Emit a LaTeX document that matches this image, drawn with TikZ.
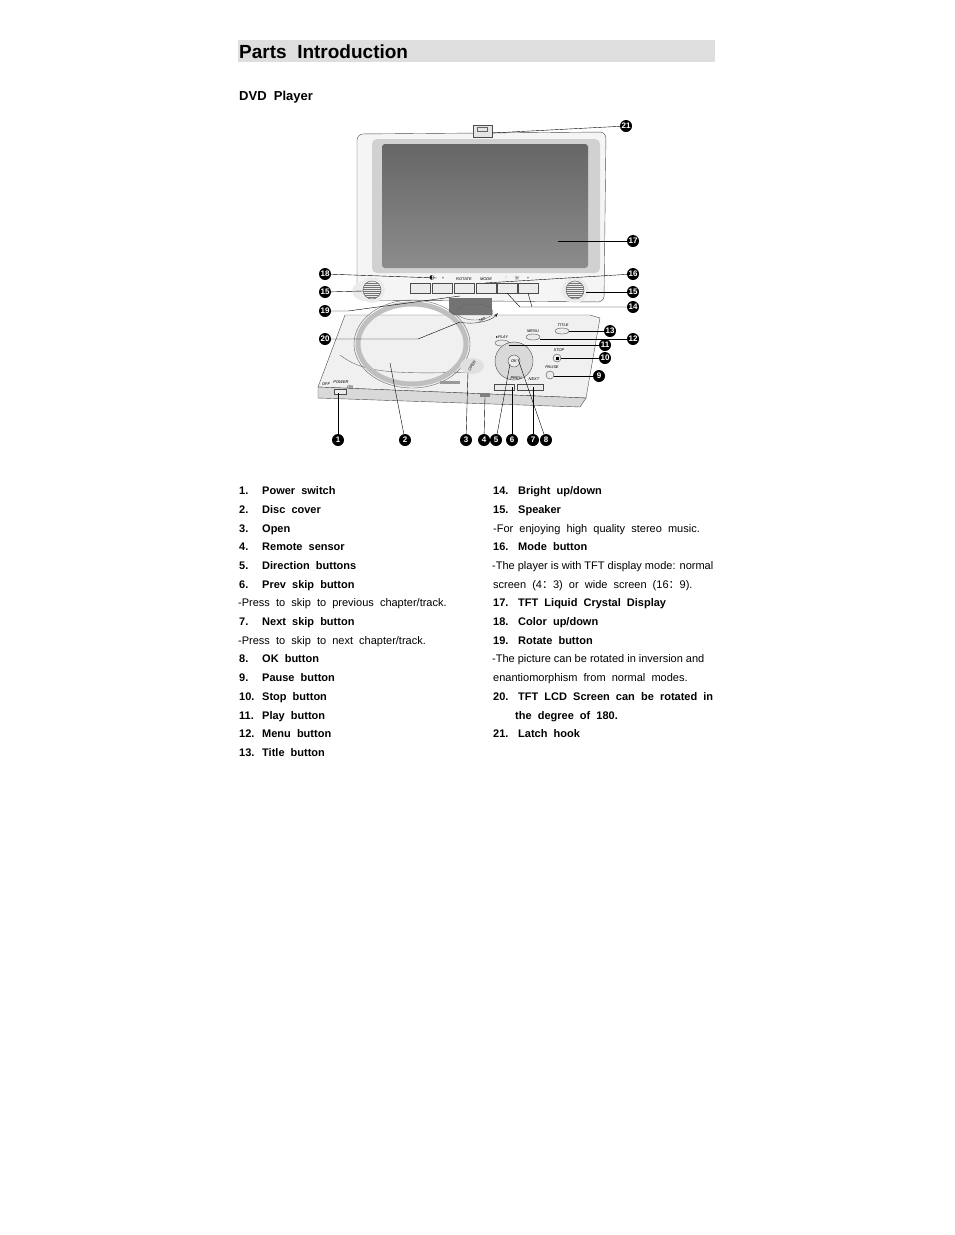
\documentclass[tikz,border=0pt]{standalone}
\usepackage{fontspec}
\setmainfont{Liberation Sans}
\newfontfamily\symf{DejaVu Sans}
\newfontfamily\cjk{Noto Sans CJK SC}
\begin{document}
\begin{tikzpicture}[x=1pt,y=-1pt,
  num/.style={circle,fill=black,text=white,inner sep=0pt,minimum size=12pt,font=\fontsize{8}{8}\selectfont\bfseries},
  lead/.style={line width=0.4pt},
  itm/.style={anchor=base west,inner sep=0pt,font=\fontsize{11}{11}\selectfont\bfseries},
  txt/.style={anchor=base west,inner sep=0pt,font=\fontsize{11}{11}\selectfont},
  btn/.style={draw=black!70,fill=black!8,line width=0.4pt},
  tiny/.style={font=\fontsize{4}{4}\selectfont\itshape,inner sep=0pt}]
\useasboundingbox (0,0) rectangle (954,1235);
% header
\fill[black!13] (238,40) rectangle (715,62);
\node[anchor=base west,inner sep=0pt,font=\fontsize{19}{19}\selectfont\bfseries] (title) at (239,58) {Parts\ \ Introduction};
\node[anchor=base west,inner sep=0pt,font=\fontsize{13}{13}\selectfont\bfseries] (sub) at (239,100) {DVD\ \ Player};
% ---- device ----
\draw[black!70,fill=black!4,rounded corners=6] (357,300) -- (357,134) -- (606,132) -- (604,302) -- cycle;
\fill[black!18,rounded corners=5] (372,139) rectangle (600,273);
\shade[top color=black!60,bottom color=black!45,rounded corners=3] (382,144) rectangle (588,268);
\draw[black!70,fill=black!10] (473,125) rectangle (492,137);
\draw[black!60] (477,127) rectangle (487,131);
% speakers
\fill[black!8] (366,291) ellipse (14 and 10);
\fill[black!8] (575,291) ellipse (14 and 10);
\foreach \i in {-7,-5,...,7}{\draw[black!55,line width=0.3pt] (363,290+\i) -- (381,290+\i); \draw[black!55,line width=0.3pt] (566,290+\i) -- (584,290+\i);}
\fill[black!8,even odd rule] (372,290) circle (13) (372,290) circle (9);
\fill[black!8,even odd rule] (575,290) circle (13) (575,290) circle (9);
\draw[black!70] (372,290) circle (9) (575,290) circle (9);
% lid buttons
\foreach \x in {410,432,454,476,497,518}{\draw[btn] (\x,283) rectangle ++(20,10);}
\node[tiny] (lm) at (420,278) {-};
\node[tiny] (lc) at (432,278) {\symf\fontsize{6}{6}\selectfont ◐};
\node[tiny] (lp) at (443,278) {+};
\node[tiny] (lr) at (464,279) {ROTATE};
\node[tiny] (lmo) at (486,279) {MODE};
\node[tiny] (lm2) at (506,278) {-};
\node[tiny] (lb) at (517,278) {\symf\fontsize{6}{6}\selectfont ☼};
\node[tiny] (lp2) at (528,278) {+};
% base
\draw[black!70,fill=black!6] (345,315) -- (590,315) -- (600,318) -- (586,398) -- (318,387) -- cycle;
\draw[black!70,fill=black!15] (318,387) -- (586,398) -- (580,407) -- (318,398) -- cycle;
\draw[black!60] (340,355) .. controls (360,370) and (380,375) .. (470,372);
\fill[black!55] (449,298) rectangle (492,315);
\draw[black!60] (475,312) ellipse (18 and 8);
% disc
\draw[black!25,line width=5pt] (412,344) ellipse (54 and 40);
\draw[black!60] (412,344) ellipse (58 and 44);
\fill[black!12] (472,366) ellipse (12 and 8);
\node[tiny,rotate=60] (opn) at (472,366) {OPEN};
\draw[black!80,-latex] (460,322) .. controls (470,325) and (490,322) .. (498,313);
\node[tiny,rotate=20] (deg) at (482,320) {180};
% base buttons
\draw[btn] (502,343) ellipse (7 and 3);
\node[tiny] (tplay) at (502,337) {{\symf ▸}PLAY};
\draw[btn] (533,337) ellipse (7 and 3);
\node[tiny] (tmenu) at (533,331) {MENU};
\draw[btn] (562,331) ellipse (7 and 3);
\node[tiny] (ttitle) at (563,325) {TITLE};
\draw[btn] (557,358) circle (4);
\fill[black] (555.5,356.5) rectangle (558.5,359.5);
\node[tiny] (tstop) at (559,350) {STOP};
\draw[btn] (550,375) circle (4);
\node[tiny] (tpause) at (552,367) {PAUSE};
\draw[btn,fill=black!15] (514,361) circle (19);
\draw[btn] (514,361) circle (6);
\node[tiny] (tok) at (514,361) {OK};
\draw[btn] (494,384) rectangle (514,390);
\draw[btn] (517,384) rectangle (543,390);
\node[tiny] (tprev) at (516,378) {PREV};
\node[tiny] (tnext) at (534,379) {NEXT};
\draw[btn] (334,389) rectangle (346,394);
\node[tiny] (toff) at (326,384) {OFF};
\node[tiny] (tpow) at (341,382) {POWER};
\node[tiny] (ton) at (350,387) {ON};
\fill[black!50] (480,393) rectangle (490,397);
\fill[black!40] (440,381) rectangle (460,384);
% ---- callouts ----
\node[num] (n21) at (626,126) {21};
\node[num] (n17) at (633,241) {17};
\node[num] (n18) at (325,274) {18};
\node[num] (n16) at (633,274) {16};
\node[num] (n15a) at (325,292) {15};
\node[num] (n15b) at (633,292) {15};
\node[num] (n14) at (633,307) {14};
\node[num] (n19) at (325,311) {19};
\node[num] (n13) at (610,331) {13};
\node[num] (n20) at (325,339) {20};
\node[num] (n12) at (633,339) {12};
\node[num] (n11) at (605,345) {11};
\node[num] (n10) at (605,358) {10};
\node[num] (n9) at (599,376) {9};
\node[num] (n1) at (338,440) {1};
\node[num] (n2) at (405,440) {2};
\node[num] (n3) at (466,440) {3};
\node[num] (n4) at (484,440) {4};
\node[num] (n5) at (496,440) {5};
\node[num] (n6) at (512,440) {6};
\node[num] (n7) at (533,440) {7};
\node[num] (n8) at (546,440) {8};
\coordinate (c21) at (492,133);
\coordinate (c17) at (558,241);
\coordinate (c18) at (437,278);
\coordinate (c16) at (485,283);
\coordinate (c15a) at (363,291);
\coordinate (c15b) at (586,292);
\coordinate (c14) at (520,307);
\coordinate (c19) at (460,296);
\coordinate (c13) at (569,331);
\coordinate (c20) at (460,322);
\coordinate (c12) at (540,339);
\coordinate (c11) at (509,345);
\coordinate (c10) at (561,358);
\coordinate (c9) at (554,376);
\coordinate (c1) at (338,393);
\coordinate (c2) at (390,363);
\coordinate (c3) at (468,372);
\coordinate (c4) at (485,397);
\coordinate (c5) at (510,364);
\coordinate (c6) at (512,387);
\coordinate (c7) at (533,387);
\coordinate (c8) at (518,359);
\draw[lead] (n21) -- (c21);
\draw[lead] (n17) -- (c17);
\draw[lead] (n18) -- (c18);
\draw[lead] (n16) -- (c16);
\draw[lead] (n15a) -- (c15a);
\draw[lead] (n15b) -- (c15b);
\draw[lead] (n14) -- (c14) -- (507,293);
\draw[lead] (c14) ++(12,0) -- (528,293);
\draw[lead] (n19) -- (348,311) -- (c19);
\draw[lead] (n13) -- (c13);
\draw[lead] (n20) -- (418,339) -- (c20);
\draw[lead] (n12) -- (c12);
\draw[lead] (n11) -- (c11);
\draw[lead] (n10) -- (c10);
\draw[lead] (n9) -- (c9);
\foreach \k in {1,...,8}{\draw[lead] (n\k) -- (c\k);}
% ---- list ----
\foreach \y/\n/\t [count=\i] in {490/1./{Power\ \ switch},509/2./{Disc\ \ cover},528/3./Open,546/4./{Remote\ \ sensor},565/5./{Direction\ \ buttons},584/6./{Prev\ \ skip\ \ button},621/7./{Next\ \ skip\ \ button},658/8./{OK\ \ button},677/9./{Pause\ \ button},696/10./{Stop\ \ button},715/11./{Play\ \ button},733/12./{Menu\ \ button},752/13./{Title\ \ button}}{
  \node[itm] (ln\i) at (239,\y+4) {\n};
  \node[itm] (lt\i) at (262,\y+4) {\t};}
\node[txt] (d6) at (238,606) {-Press\ \ to\ \ skip\ \ to\ \ previous\ \ chapter/track.};
\node[txt] (d7) at (238,644) {-Press\ \ to\ \ skip\ \ to\ \ next\ \ chapter/track.};
\foreach \y/\n/\t [count=\i] in {490/14./{Bright\ \ up/down},509/15./Speaker,546/16./{Mode\ \ button},602/17./{TFT\ \ Liquid\ \ Crystal\ \ Display},621/18./{Color\ \ up/down},640/19./{Rotate\ \ button},696/20./{TFT\ \ LCD\ \ Screen\ \ can\ \ be\ \ rotated\ \ in},733/21./{Latch\ \ hook}}{
  \node[itm] (rn\i) at (493,\y+4) {\n};
  \node[itm] (rt\i) at (518,\y+4) {\t};}
\node[itm] (r20b) at (515,719) {the\ \ degree\ \ of\ \ 180.};
\node[txt] (d15) at (493,532) {-For\ \ enjoying\ \ high\ \ quality\ \ stereo\ \ music.};
\node[txt] (d16a) at (492,569) {-The player is with TFT display mode: normal};
\node[txt] (d16b) at (493,588) {screen\ \ (4{\cjk ：}3)\ \ or\ \ wide\ \ screen\ \ (16{\cjk ：}9).};
\node[txt] (d19a) at (492,662) {-The picture can be rotated in inversion and};
\node[txt] (d19b) at (493,681) {enantiomorphism\ \ from\ \ normal\ \ modes.};
\end{tikzpicture}
\end{document}
